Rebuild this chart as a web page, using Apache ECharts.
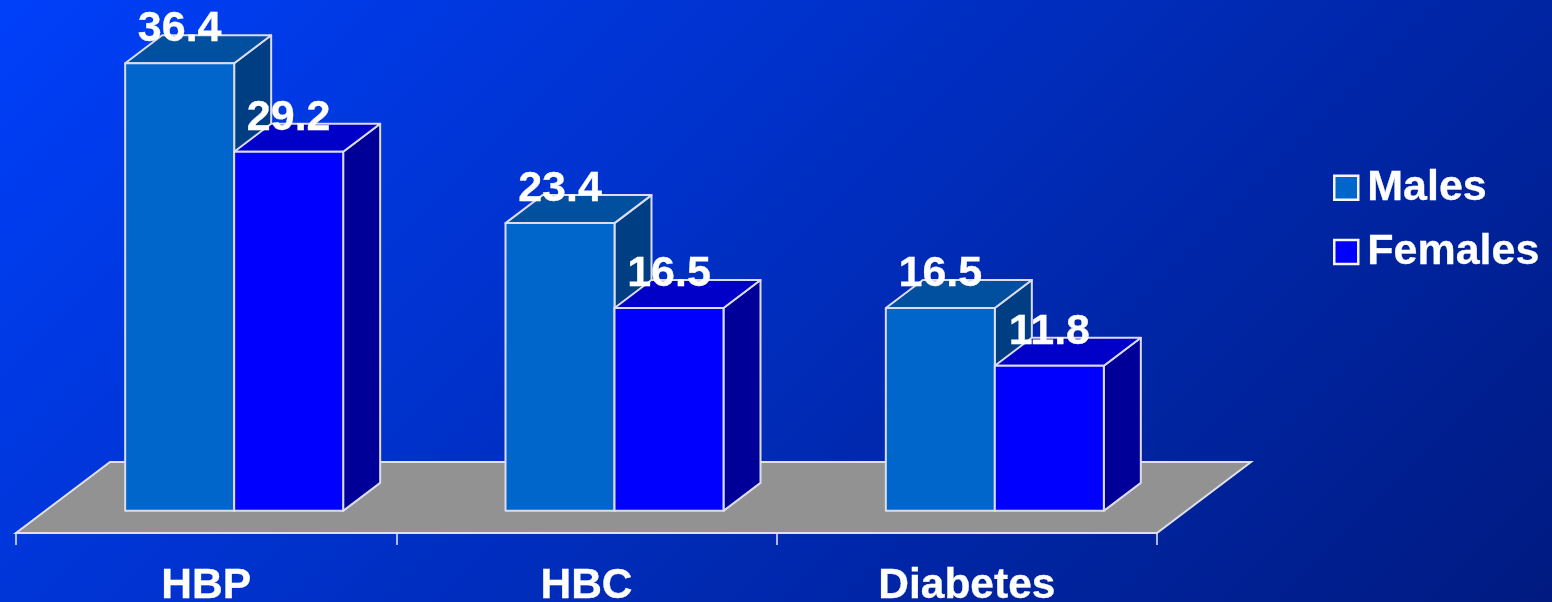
<!DOCTYPE html>
<html><head><meta charset="utf-8">
<style>html,body{margin:0;padding:0;background:#0030c0}#c{width:1552px;height:602px}</style>
<script src="https://cdn.jsdelivr.net/npm/echarts@6/dist/echarts.min.js"></script>
</head><body><div id="c"></div>
<script>
const categories = ['HBP', 'HBC', 'Diabetes'];
const males = [36.4, 23.4, 16.5];
const females = [29.2, 16.5, 11.8];
const seriesNames = ['Males', 'Females'];

const DX = 37, DY = -28, BAR_W = 109, EDGE = '#dcdcec', SHIFT_X = 28;
const FONT = '"Liberation Sans", Arial, sans-serif';

function barItem(sign, front, top, side) {
  return function (params, api) {
    const i = api.value(0), v = api.value(1);
    const b = api.coord([i, 0]), t = api.coord([i, v]);
    const cx = b[0] + SHIFT_X;
    const x0 = sign < 0 ? cx - BAR_W : cx, x1 = x0 + BAR_W;
    const line = { stroke: EDGE, lineWidth: 2, lineJoin: 'round' };
    return {
      type: 'group',
      children: [
        { type: 'polygon', shape: { points: [[x1, t[1]], [x1 + DX, t[1] + DY], [x1 + DX, b[1] + DY], [x1, b[1]]] }, style: Object.assign({ fill: side }, line) },
        { type: 'polygon', shape: { points: [[x0, t[1]], [x0 + DX, t[1] + DY], [x1 + DX, t[1] + DY], [x1, t[1]]] }, style: Object.assign({ fill: top }, line) },
        { type: 'rect', shape: { x: x0, y: t[1], width: BAR_W, height: b[1] - t[1] }, style: Object.assign({ fill: front }, line) },
        { type: 'text', z2: 100, style: { text: v.toFixed(1), x: (x0 + x1) / 2, y: t[1] - 34, align: 'center', verticalAlign: 'middle', fill: '#fff', stroke: '#fff', lineWidth: 0.3, font: 'bold 43px ' + FONT } }
      ]
    };
  };
}

const chart = echarts.init(document.getElementById('c'));
chart.setOption({
  animation: false,
  backgroundColor: {
    type: 'linear', global: true, x: 0, y: 0, x2: 1077, y2: 1077,
    colorStops: [{ offset: 0, color: '#0040fa' }, { offset: 1, color: '#001a80' }]
  },
  grid: { left: 16, top: 19, width: 1141, height: 514, outerBoundsMode: 'none' },
  legend: {
    left: 1328, top: 161, orient: 'vertical', itemWidth: 24, itemHeight: 24, itemGap: 21,
    selectedMode: false,
    textStyle: { color: '#fff', fontFamily: FONT, fontWeight: 'bold', fontSize: 43, padding: [0, 0, 0, 4], textBorderColor: '#fff', textBorderWidth: 0.3 },
    data: [
      { name: seriesNames[0], icon: 'rect', itemStyle: { color: '#0066cc', borderColor: '#f4f4fa', borderWidth: 2.5 } },
      { name: seriesNames[1], icon: 'rect', itemStyle: { color: '#0000ff', borderColor: '#f4f4fa', borderWidth: 2.5 } }
    ]
  },
  xAxis: {
    type: 'category', data: categories,
    axisLine: { show: true, onZero: false, lineStyle: { color: '#e8e8f4', width: 2 } },
    axisTick: { show: true, length: 12, inside: false, alignWithLabel: false, lineStyle: { color: '#e8e8f4', width: 1.5 } },
    axisLabel: { color: '#fff', fontFamily: FONT, fontWeight: 'bold', fontSize: 42.5, margin: 32, textBorderColor: '#fff', textBorderWidth: 0.3 }
  },
  yAxis: { type: 'value', min: -1.8, max: 40, show: false },
  series: [
    {
      type: 'custom', silent: true, z: 1, data: [[0]],
      renderItem: function (params, api) {
        const r = params.coordSys;
        const y0 = r.y + r.height, x0 = r.x, x1 = r.x + r.width;
        return { type: 'polygon', shape: { points: [[x0, y0], [x1, y0], [x1 + 94, y0 - 71], [x0 + 94, y0 - 71]] },
          style: { fill: '#929292', stroke: '#e0e0e8', lineWidth: 2 } };
      }
    },
    { name: seriesNames[0], type: 'custom', z: 2, data: males.map((v, i) => [i, v]), renderItem: barItem(-1, '#0066cc', '#00509f', '#003e84') },
    { name: seriesNames[1], type: 'custom', z: 3, data: females.map((v, i) => [i, v]), renderItem: barItem(1, '#0000ff', '#0000c8', '#000099') }
  ]
});
</script></body></html>
